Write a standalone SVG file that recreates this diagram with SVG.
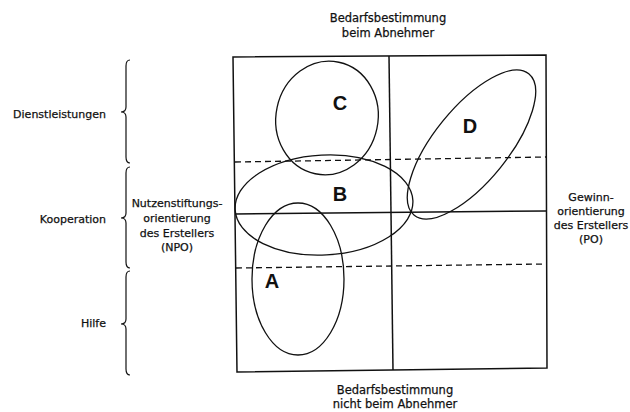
<svg xmlns="http://www.w3.org/2000/svg" width="630" height="412" viewBox="0 0 630 412">
<style>
.t{font-family:"DejaVu Sans","Liberation Sans",sans-serif;font-size:11px;fill:#111;stroke:#111;stroke-width:0.25}
.tc{text-anchor:middle}
.te{text-anchor:end}
.big{font-family:"Liberation Sans",Arial,sans-serif;font-weight:bold;font-size:20px;fill:#111;text-anchor:middle}
.ln{fill:none;stroke:#111;stroke-width:1.5}
.dash{fill:none;stroke:#111;stroke-width:1.3;stroke-dasharray:6 4}
.ell{fill:none;stroke:#111;stroke-width:1.3}
.br{fill:none;stroke:#111;stroke-width:1.2}
</style>
<rect width="630" height="412" fill="#fff"/>
<g id="grid">
<path class="ln" d="M233,57 L546,55 L547,368 L237,372 Z"/>
<path class="ln" d="M389,56 L393,370"/>
<path class="ln" d="M235,214 L546,211"/>
<path class="dash" d="M235,162 L546,157"/>
<path class="dash" d="M236,268 L546,264"/>
</g>
<g id="braces">
<path class="br" d="M130,60 Q126,60 126,66 L126,107 Q126,112 121,112 Q126,112 126,117 L126,157 Q126,163 130,163"/>
<path class="br" d="M130,167 Q126,167 126,173 L126,213 Q126,218 121,218 Q126,218 126,223 L126,262 Q126,268 130,268"/>
<path class="br" d="M130,271 Q126,271 126,277 L126,319 Q126,324 121,324 Q126,324 126,329 L126,369 Q126,375 130,375"/>
</g>
<g id="node-C">
<ellipse class="ell" cx="327" cy="118" rx="51" ry="57" transform="rotate(12 327 118)"/>
<text class="big" x="340" y="110">C</text>
</g>
<g id="node-B">
<ellipse class="ell" cx="324" cy="205" rx="89" ry="50" transform="rotate(-3 324 205)"/>
<text class="big" x="340" y="201">B</text>
</g>
<g id="node-A">
<ellipse class="ell" cx="298" cy="279" rx="46" ry="76"/>
<text class="big" x="272" y="288">A</text>
</g>
<g id="node-D">
<ellipse class="ell" cx="471.5" cy="144.5" rx="91" ry="37" transform="rotate(-51 471.5 144.5)"/>
<text class="big" x="470" y="133">D</text>
</g>
<g id="labels">
<text class="t tc" x="388" y="22" style="font-size:11.5px">Bedarfsbestimmung</text>
<text class="t tc" x="388" y="36.5" style="font-size:11.5px">beim Abnehmer</text>
<text class="t tc" x="395" y="394" style="font-size:11.5px">Bedarfsbestimmung</text>
<text class="t tc" x="395" y="408" style="font-size:11.5px">nicht beim Abnehmer</text>
<text class="t te" x="106" y="118">Dienstleistungen</text>
<text class="t te" x="106" y="223">Kooperation</text>
<text class="t te" x="106" y="327">Hilfe</text>
<text class="t tc" x="177" y="207">Nutzenstiftungs-</text>
<text class="t tc" x="177" y="222">orientierung</text>
<text class="t tc" x="177" y="237">des Erstellers</text>
<text class="t tc" x="177" y="251">(NPO)</text>
<text class="t tc" x="591" y="201">Gewinn-</text>
<text class="t tc" x="591" y="215">orientierung</text>
<text class="t tc" x="591" y="229">des Erstellers</text>
<text class="t tc" x="591" y="243">(PO)</text>
</g>
</svg>
